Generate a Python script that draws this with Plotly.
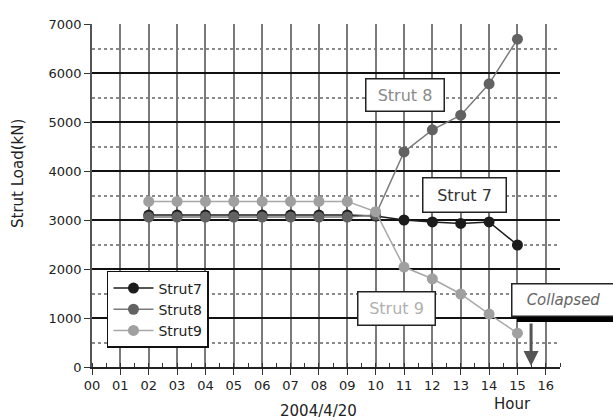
import plotly.graph_objects as go

# Hourly strut loads (kN) on 2004/4/20
hours = [2, 3, 4, 5, 6, 7, 8, 9, 10, 11, 12, 13, 14, 15]
strut7 = [3100, 3100, 3100, 3100, 3100, 3100, 3100, 3100, 3080, 3000, 2960, 2930, 2960, 2490]
strut8 = [3060, 3060, 3060, 3060, 3060, 3060, 3060, 3060, 3100, 4390, 4840, 5140, 5780, 6690]
strut9 = [3380, 3380, 3380, 3380, 3380, 3380, 3380, 3380, 3170, 2040, 1800, 1490, 1080, 690]

tick_hours = list(range(0, 17))
tick_text = [f"{h:02d}" for h in tick_hours]

FONT = "DejaVu Sans"

fig = go.Figure()

series = [
    ("Strut7", strut7, "#1c1c1c", "#1c1c1c"),
    ("Strut8", strut8, "#626262", "#7a7a7a"),
    ("Strut9", strut9, "#a0a0a0", "#a8a8a8"),
]
for name, vals, mcol, lcol in series:
    fig.add_trace(go.Scatter(
        x=hours, y=vals, name=name, mode="lines+markers",
        line=dict(color=lcol, width=1.5),
        marker=dict(color=mcol, size=11),
    ))

fig.update_layout(
    width=613, height=420,
    margin=dict(l=92, r=53, t=24, b=53),
    paper_bgcolor="white", plot_bgcolor="white",
    font=dict(family=FONT, size=13, color="#222"),
    showlegend=True,
    legend=dict(
        x=0.032, y=0.28, xanchor="left", yanchor="top",
        bgcolor="white", bordercolor="#111", borderwidth=1.5,
        font=dict(size=14, color="#222"),
        tracegroupgap=0, itemwidth=40,
    ),
)

fig.update_xaxes(
    range=[0, 16.5],
    tickvals=tick_hours, ticktext=tick_text,
    ticks="outside", ticklen=6, tickcolor="#333", tickwidth=1.2,
    showgrid=True, gridcolor="#7a7a7a", gridwidth=1.5,
    showline=True, linecolor="#222", linewidth=1.5,
    zeroline=False,
    minor=dict(dtick=0.5, tick0=0, ticks="inside", ticklen=4, tickcolor="#333", showgrid=False),
    tickfont=dict(size=13),
)

fig.update_yaxes(
    range=[0, 7000], dtick=1000, tick0=0,
    ticks="outside", ticklen=6, tickcolor="#333", tickwidth=1.2,
    showgrid=True, gridcolor="#111", gridwidth=1.5,
    showline=True, linecolor="#555", linewidth=1.5,
    zeroline=False,
    minor=dict(dtick=500, tick0=0, showgrid=True, gridcolor="#8a8a8a", gridwidth=1.5, griddash="dot"),
    tickfont=dict(size=13),
)


def px_x(px):
    return (px - 92) / 468


def px_y(py):
    return (367 - py) / 343


# Axis titles
fig.add_annotation(xref="paper", yref="paper", x=px_x(18), y=px_y(174),
                   xanchor="center", yanchor="middle",
                   text="Strut Load(kN)", showarrow=False, textangle=-90,
                   font=dict(size=15, color="#222"))
fig.add_annotation(xref="paper", yref="paper", x=px_x(318), y=px_y(411),
                   xanchor="center", yanchor="middle",
                   text="2004/4/20", showarrow=False, font=dict(size=15, color="#222"))
fig.add_annotation(xref="paper", yref="paper", x=px_x(512), y=px_y(404),
                   xanchor="center", yanchor="middle",
                   text="Hour", showarrow=False, font=dict(size=15, color="#222"))

# Series call-out boxes
callouts = [
    ("Strut 8", 11.04, 5551, 79, 33, "#8a8a8a"),
    ("Strut 7", 13.15, 3510, 84, 35, "#333333"),
    ("Strut 9", 10.72, 1184, 78, 34, "#b0b0b0"),
]
for txt, cx, cy, w, h, col in callouts:
    fig.add_annotation(x=cx, y=cy, text=txt, showarrow=False,
                       xanchor="center", yanchor="middle",
                       width=w - 4, height=h - 4, bgcolor="white",
                       bordercolor="#222", borderwidth=1.5,
                       font=dict(size=16, color=col))

# Collapse marker: label, bar and arrow
fig.add_annotation(xref="paper", yref="paper", x=px_x(563), y=px_y(299.5),
                   xanchor="center", yanchor="middle",
                   text="<i>Collapsed</i>", showarrow=False,
                   width=100, height=29, bgcolor="white",
                   bordercolor="#222", borderwidth=1.5,
                   font=dict(size=15, color="#666"))
fig.add_shape(type="rect", xref="paper", yref="paper",
              x0=px_x(517), x1=px_x(615),
              y0=px_y(322), y1=px_y(316),
              fillcolor="black", line=dict(width=0))
fig.add_annotation(x=15.48, y=20, ax=0, ay=-44, text="", showarrow=True,
                   arrowhead=2, arrowsize=1, arrowwidth=3, arrowcolor="#555")

fig.write_html("out.html")
